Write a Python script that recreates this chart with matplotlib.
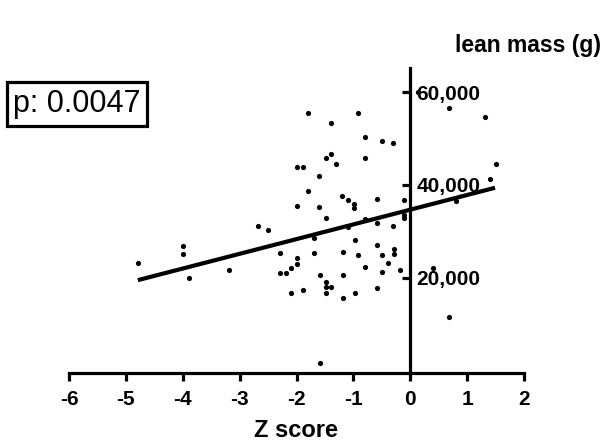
import matplotlib
matplotlib.use("Agg")
import matplotlib.pyplot as plt

plt.rcParams['font.family'] = ['Liberation Sans', 'DejaVu Sans']
plt.rcParams['axes.unicode_minus'] = False

# Z score vs lean mass (g)
z_score = [-4.79, -4.00, -4.00, -3.89, -3.19, -2.68, -2.50, -2.29, -2.29, -2.19,
           -2.09, -2.09, -1.99, -1.99, -1.99, -1.89, -1.99, -1.89, -1.80, -1.80,
           -1.70, -1.70, -1.60, -1.60, -1.59, -1.59, -1.49, -1.49, -1.49, -1.39,
           -1.49, -1.49, -1.39, -1.39, -1.30, -1.20, -1.19, -1.19, -1.19, -1.09,
           -1.09, -0.99, -0.99, -0.98, -0.98, -0.91, -0.91, -0.80, -0.80, -0.80,
           -0.79, -0.58, -0.58, -0.58, -0.58, -0.50, -0.50, -0.50, -0.40, -0.30,
           -0.30, -0.29, -0.29, -0.18, -0.11, -0.11, -0.11, 0.13, 0.40, 0.69,
           0.69, 0.80, 1.31, 1.41, 1.50]
lean_mass = [23230, 26830, 25170, 20000, 21660, 31140, 30280, 25260, 21010, 21010,
             22090, 16770, 24240, 22950, 43850, 43850, 35450, 17350, 55560, 38680,
             28490, 25260, 41850, 35300, 20640, 1680, 19010, 18060, 16640, 17930,
             32800, 45790, 46590, 53270, 44570, 37540, 25540, 20640, 15690, 36680,
             31000, 35820, 35080, 28120, 16770, 55560, 24890, 50380, 45790, 32600,
             22300, 36960, 31720, 27110, 17710, 49390, 24890, 21290, 23230, 49030,
             31140, 26180, 25170, 21660, 36680, 33510, 32930, 60020, 22090, 56570,
             11530, 36530, 54630, 41270, 44500]

# regression line end points
fit_x = [-4.79, 1.49]
fit_y = [19500, 39400]

x_ticks = [-6, -5, -4, -3, -2, -1, 0, 1, 2]
y_ticks = [20000, 40000, 60000]
y_tick_labels = ["20,000", "40,000", "60,000"]
p_text = "p: 0.0047"

fig = plt.figure(figsize=(6.11, 4.43), dpi=100)
ax = fig.add_axes([69/611, 1 - 373/443, 455/611, 305/443])

ax.scatter(z_score, lean_mass, s=14, color="black", zorder=3, linewidths=0)
ax.plot(fit_x, fit_y, color="black", linewidth=3, solid_capstyle="butt")

ax.set_xlim(-6, 2)
ax.set_ylim(-500, 65200)

# y axis crosses at x = 0, labels sit on its right side
ax.spines["top"].set_visible(False)
ax.spines["left"].set_position(("data", 0))
ax.spines["right"].set_position(("data", 0))
ax.spines["right"].set_visible(False)
ax.spines["left"].set_linewidth(2.3)
ax.spines["bottom"].set_linewidth(2.3)

ax.set_xticks(x_ticks)
ax.set_yticks(y_ticks)
ax.set_yticklabels(y_tick_labels)
ax.tick_params(axis="x", direction="out", length=6, width=2.3, pad=6.5,
               labelsize=15)
ax.tick_params(axis="y", direction="out", length=6, width=2.3, pad=-1.5,
               left=True, right=False, labelleft=False, labelright=True,
               labelsize=15)
for lab in ax.get_xticklabels() + ax.get_yticklabels():
    lab.set_fontweight("bold")

ax.set_xlabel("Z score", fontsize=17, fontweight="bold")
ax.xaxis.set_label_coords(0.5, -0.15)
ax.set_ylabel("lean mass (g)", fontsize=16.5, fontweight="bold", rotation=0,
              va="center", ha="center")
ax.yaxis.set_label_coords(1.009, 1.075)

fig.text(77/611, 1 - 104/443, p_text, fontsize=22, ha="center", va="center",
         bbox=dict(boxstyle="square,pad=0.22", fc="white", ec="black", lw=2.3))

fig.savefig("out.png", dpi=100)
